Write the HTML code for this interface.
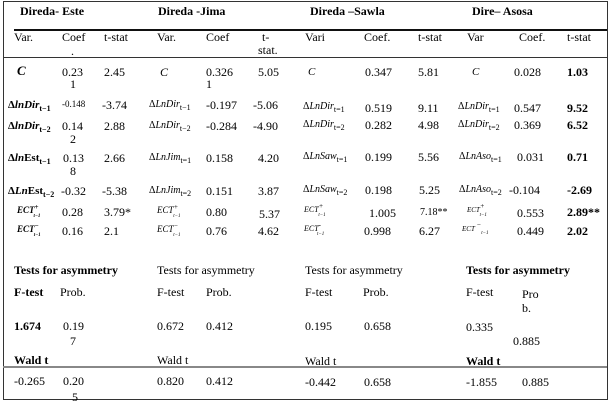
<!DOCTYPE html>
<html><head><meta charset="utf-8">
<style>
html,body{margin:0;padding:0;background:#fff;}
body{width:613px;height:404px;position:relative;overflow:hidden;font-family:"Liberation Serif",serif;color:#000;}
.t{position:absolute;font-size:12px;line-height:12px;white-space:nowrap;}
.b{font-weight:bold;}
.i{font-style:italic;}
.s{font-size:8px;position:relative;top:3px;}
.sup{font-size:7px;position:relative;top:-4px;}
.l{position:absolute;}
.lab{font-size:11px;line-height:12px;}
.lab2{font-size:10px;line-height:12px;}
</style></head><body>
<div class="l" style="left:3px;top:1px;width:603px;height:397px;border:1px solid #333;"></div>
<div class="l" style="left:14px;top:29px;width:593px;height:2px;background:#111;"></div>
<div class="l" style="left:3px;top:57px;width:604px;height:1px;background:#333;"></div>
<div class="l" style="left:3px;top:366px;width:604px;height:2px;background:#888;"></div>

<!-- headers -->
<div class="t b" style="left:20px;top:5px;">Direda- Este</div>
<div class="t b" style="left:158px;top:5px;">Direda -Jima</div>
<div class="t b" style="left:310px;top:5px;">Direda –Sawla</div>
<div class="t b" style="left:472px;top:5px;">Dire– Asosa</div>

<div class="t" style="left:14px;top:31px;">Var.</div>
<div class="t" style="left:62px;top:31px;">Coef</div>
<div class="t" style="left:71px;top:45px;">.</div>
<div class="t" style="left:104px;top:31px;">t-stat</div>
<div class="t" style="left:157px;top:31px;">Var.</div>
<div class="t" style="left:206px;top:31px;">Coef</div>
<div class="t" style="left:262px;top:31px;">t-</div>
<div class="t" style="left:258px;top:44px;">stat.</div>
<div class="t" style="left:305px;top:31px;">Vari</div>
<div class="t" style="left:364px;top:31px;">Coef.</div>
<div class="t" style="left:418px;top:31px;">t-stat</div>
<div class="t" style="left:467px;top:31px;">Var</div>
<div class="t" style="left:519px;top:31px;">Coef.</div>
<div class="t" style="left:567px;top:31px;">t-stat</div>

<!-- Row C -->
<div class="t b i" style="left:17px;top:65px;font-size:13px;">C</div>
<div class="t" style="left:62px;top:65.5px;">0.23</div>
<div class="t" style="left:70px;top:78px;">1</div>
<div class="t" style="left:104px;top:65.5px;">2.45</div>
<div class="t i" style="left:160px;top:65.5px;">C</div>
<div class="t" style="left:206px;top:65.5px;">0.326</div>
<div class="t" style="left:206px;top:78px;">1</div>
<div class="t" style="left:258px;top:65.5px;">5.05</div>
<div class="t i" style="left:308px;top:66px;font-size:11px;">C</div>
<div class="t" style="left:365px;top:65.5px;">0.347</div>
<div class="t" style="left:418px;top:65.5px;">5.81</div>
<div class="t i" style="left:472px;top:66px;font-size:11px;">C</div>
<div class="t" style="left:514px;top:65.5px;">0.028</div>
<div class="t b" style="left:567px;top:65.5px;">1.03</div>

<!-- Row Dir t-1 -->
<div class="t b lab" style="left:8px;top:99px;">Δ<i>lnDir</i><span class="s">t−1</span></div>
<div class="t" style="left:62px;top:98px;font-size:9px;">-0.148</div>
<div class="t" style="left:102px;top:99px;">-3.74</div>
<div class="t lab2" style="left:149px;top:99px;">Δ<i>LnDir</i><span class="s">t−1</span></div>
<div class="t" style="left:206px;top:99px;">-0.197</div>
<div class="t" style="left:253px;top:99px;">-5.06</div>
<div class="t lab2" style="left:303px;top:101px;">Δ<i>LnDir</i><span class="s">t=1</span></div>
<div class="t" style="left:365px;top:101.5px;">0.519</div>
<div class="t" style="left:418px;top:101.5px;">9.11</div>
<div class="t lab2" style="left:458px;top:101px;">Δ<i>LnDir</i><span class="s">t=1</span></div>
<div class="t" style="left:514px;top:101.5px;">0.547</div>
<div class="t b" style="left:567px;top:101.5px;">9.52</div>

<!-- Row Dir t-2 -->
<div class="t b lab" style="left:8px;top:120px;">Δ<i>lnDir</i><span class="s">t−2</span></div>
<div class="t" style="left:62px;top:120px;">0.14</div>
<div class="t" style="left:70px;top:133px;">2</div>
<div class="t" style="left:104px;top:120px;">2.88</div>
<div class="t lab2" style="left:149px;top:120px;">Δ<i>LnDir</i><span class="s">t−2</span></div>
<div class="t" style="left:206px;top:120px;">-0.284</div>
<div class="t" style="left:253px;top:120px;">-4.90</div>
<div class="t lab2" style="left:303px;top:119px;">Δ<i>LnDir</i><span class="s">t=2</span></div>
<div class="t" style="left:365px;top:119px;">0.282</div>
<div class="t" style="left:418px;top:119px;">4.98</div>
<div class="t lab2" style="left:458px;top:119px;">Δ<i>LnDir</i><span class="s">t=2</span></div>
<div class="t" style="left:514px;top:119px;">0.369</div>
<div class="t b" style="left:567px;top:119px;">6.52</div>

<!-- Row Est t-1 -->
<div class="t b lab" style="left:8px;top:151.5px;">Δ<i>ln</i>Est<span class="s">t−1</span></div>
<div class="t" style="left:63px;top:151.5px;">0.13</div>
<div class="t" style="left:70px;top:165px;">8</div>
<div class="t" style="left:104px;top:151.5px;">2.66</div>
<div class="t lab2" style="left:149px;top:151.5px;">Δ<i>LnJim</i><span class="s">t=1</span></div>
<div class="t" style="left:206px;top:151.5px;">0.158</div>
<div class="t" style="left:258px;top:151.5px;">4.20</div>
<div class="t lab2" style="left:303px;top:151px;">Δ<i>LnSaw</i><span class="s">t=1</span></div>
<div class="t" style="left:365px;top:151px;">0.199</div>
<div class="t" style="left:418px;top:151px;">5.56</div>
<div class="t lab2" style="left:459px;top:151px;">Δ<i>LnAso</i><span class="s">t=1</span></div>
<div class="t" style="left:517px;top:151px;">0.031</div>
<div class="t b" style="left:567px;top:151px;">0.71</div>

<!-- Row Est t-2 -->
<div class="t b lab" style="left:8px;top:184.5px;">Δ<i>Ln</i>Est<span class="s">t−2</span></div>
<div class="t" style="left:61px;top:184.5px;">-0.32</div>
<div class="t" style="left:102px;top:184.5px;">-5.38</div>
<div class="t lab2" style="left:149px;top:184.5px;">Δ<i>LnJim</i><span class="s">t=2</span></div>
<div class="t" style="left:206px;top:184.5px;">0.151</div>
<div class="t" style="left:258px;top:184.5px;">3.87</div>
<div class="t lab2" style="left:303px;top:184px;">Δ<i>LnSaw</i><span class="s">t=2</span></div>
<div class="t" style="left:365px;top:184px;">0.198</div>
<div class="t" style="left:419px;top:184px;">5.25</div>
<div class="t lab2" style="left:459px;top:184px;">Δ<i>LnAso</i><span class="s">t=2</span></div>
<div class="t" style="left:509px;top:184px;">-0.104</div>
<div class="t b" style="left:567px;top:184px;">-2.69</div>

<!-- Row ECT+ -->
<div class="t b i" style="left:17px;top:204px;font-size:9px;">ECT<span class="sup">+</span><span class="s" style="font-size:5px;margin-left:-5px;top:4px;">t−1</span></div>
<div class="t" style="left:62px;top:206px;">0.28</div>
<div class="t" style="left:104px;top:206px;">3.79*</div>
<div class="t i" style="left:157px;top:204px;font-size:9px;">ECT<span class="sup">+</span><span class="s" style="font-size:5px;margin-left:-5px;top:4px;">t−1</span></div>
<div class="t" style="left:206px;top:206px;">0.80</div>
<div class="t" style="left:259px;top:208px;">5.37</div>
<div class="t i" style="left:304px;top:204px;font-size:8px;">ECT<span class="sup">+</span><span class="s" style="font-size:5px;margin-left:-5px;top:4px;">t−1</span></div>
<div class="t" style="left:369px;top:206.5px;">1.005</div>
<div class="t" style="left:420px;top:207px;font-size:10px;">7.18**</div>
<div class="t i" style="left:467px;top:204px;font-size:7px;">ECT<span class="sup">+</span><span class="s" style="font-size:5px;margin-left:-5px;top:4px;">t−1</span></div>
<div class="t" style="left:517px;top:206.5px;">0.553</div>
<div class="t b" style="left:567px;top:206px;">2.89**</div>

<!-- Row ECT- -->
<div class="t b i" style="left:17px;top:223px;font-size:9px;">ECT<span class="sup">−</span><span class="s" style="font-size:5px;margin-left:-5px;top:4px;">t−1</span></div>
<div class="t" style="left:62px;top:225px;">0.16</div>
<div class="t" style="left:104px;top:225px;">2.1</div>
<div class="t i" style="left:157px;top:223px;font-size:9px;">ECT<span class="sup">−</span><span class="s" style="font-size:5px;margin-left:-5px;top:4px;">t−1</span></div>
<div class="t" style="left:206px;top:225px;">0.76</div>
<div class="t" style="left:258px;top:225px;">4.62</div>
<div class="t i" style="left:304px;top:223px;font-size:8px;">ECT<span class="sup">-</span><span class="s" style="font-size:5px;margin-left:-4px;top:4px;">t−1</span></div>
<div class="t" style="left:364px;top:225px;">0.998</div>
<div class="t" style="left:419px;top:225px;">6.27</div>
<div class="t i" style="left:462px;top:223px;font-size:7px;">ECT <span class="sup">−</span><span class="s" style="font-size:5px;">t−1</span></div>
<div class="t" style="left:517px;top:225px;">0.449</div>
<div class="t b" style="left:567px;top:225px;">2.02</div>

<!-- Tests -->
<div class="t b" style="left:14px;top:264px;">Tests for asymmetry</div>
<div class="t" style="left:157px;top:264px;">Tests for asymmetry</div>
<div class="t" style="left:305px;top:264px;">Tests for asymmetry</div>
<div class="t b" style="left:466px;top:264px;">Tests for asymmetry</div>

<div class="t b" style="left:14px;top:286px;">F-test</div>
<div class="t" style="left:60px;top:286px;">Prob.</div>
<div class="t" style="left:157px;top:286px;">F-test</div>
<div class="t" style="left:206px;top:286px;">Prob.</div>
<div class="t" style="left:305px;top:286px;">F-test</div>
<div class="t" style="left:363px;top:286px;">Prob.</div>
<div class="t" style="left:466px;top:286px;">F-test</div>
<div class="t" style="left:522px;top:288px;">Pro</div>
<div class="t" style="left:522px;top:302px;">b.</div>

<div class="t b" style="left:14px;top:320px;">1.674</div>
<div class="t" style="left:63px;top:320px;">0.19</div>
<div class="t" style="left:70px;top:335px;">7</div>
<div class="t" style="left:157px;top:320px;">0.672</div>
<div class="t" style="left:206px;top:320px;">0.412</div>
<div class="t" style="left:305px;top:320px;">0.195</div>
<div class="t" style="left:364px;top:320px;">0.658</div>
<div class="t" style="left:466px;top:321px;">0.335</div>
<div class="t" style="left:513px;top:335px;">0.885</div>

<div class="t b" style="left:14px;top:354px;">Wald t</div>
<div class="t" style="left:157px;top:354px;">Wald t</div>
<div class="t" style="left:305px;top:355px;">Wald t</div>
<div class="t b" style="left:466px;top:355px;">Wald t</div>

<div class="t" style="left:14px;top:375px;">-0.265</div>
<div class="t" style="left:63px;top:375px;">0.20</div>
<div class="t" style="left:72px;top:391px;">5</div>
<div class="t" style="left:157px;top:375px;">0.820</div>
<div class="t" style="left:206px;top:375px;">0.412</div>
<div class="t" style="left:305px;top:376px;">-0.442</div>
<div class="t" style="left:364px;top:376px;">0.658</div>
<div class="t" style="left:466px;top:376px;">-1.855</div>
<div class="t" style="left:522px;top:376px;">0.885</div>
</body></html>
